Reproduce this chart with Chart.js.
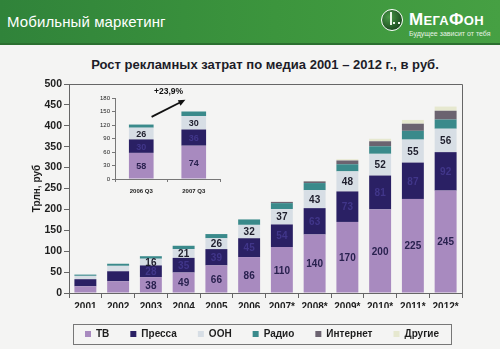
<!DOCTYPE html>
<html><head><meta charset="utf-8">
<script src="https://cdn.jsdelivr.net/npm/chart.js@4/dist/chart.umd.min.js"></script>
<style>
html,body{margin:0;padding:0;width:500px;height:349px;overflow:hidden;background:#f4f4f3;font-family:"Liberation Sans",Arial,sans-serif;}
#header{position:absolute;left:0;top:0;width:500px;height:43px;background:linear-gradient(to right,#30833a,#3c953d 55%,#46a043);border-bottom:2px solid #2b6f30;}
#htext{position:absolute;left:7px;top:13px;color:#fff;font-size:15px;letter-spacing:0.1px;}
#logoC{position:absolute;left:381px;top:9px;width:20px;height:20px;border-radius:50%;border:1.5px solid #fff;background:radial-gradient(circle at 35% 35%,#4a9a48,#1e4f22 70%);}
#logoI{position:absolute;left:390px;top:12px;width:2px;height:13px;background:#e8f3e6;}
#logoD{position:absolute;left:393px;top:22px;width:7px;height:2px;border-top:2px dotted #e8f3e6;}
#logoT{position:absolute;left:409px;top:10px;color:#fff;font-weight:bold;font-size:17px;letter-spacing:0.3px;}
#logoT span{font-size:13px;}
#logoS{position:absolute;left:409px;top:30px;color:#e6f2e4;font-size:7px;}
#title{position:absolute;left:15px;top:57px;width:500px;text-align:center;font-size:13px;font-weight:bold;color:#1c1c28;}
canvas{position:absolute;}
</style></head><body>
<div id="header"><div id="htext">Мобильный маркетинг</div>
<div id="logoC"></div><div id="logoI"></div><div id="logoD"></div>
<div id="logoT">М<span>ЕГА</span>Ф<span>ОН</span></div>
<div id="logoS">Будущее зависит от тебя</div></div>
<div id="title">Рост рекламных затрат по медиа 2001 – 2012 г., в руб.</div>
<canvas id="main" width="500" height="349" style="left:0;top:0"></canvas>
<canvas id="inset" width="150" height="120" style="left:80px;top:85px"></canvas>
<script>
// ---- data ----
const years = ['2001','2002','2003','2004','2005','2006','2007*','2008*','2009*','2010*','2011*','2012*'];
const tv       = [16, 28, 38, 49, 66, 86, 110, 140, 170, 200, 225, 245];
const press    = [17, 24, 28, 35, 39, 45, 54, 63, 73, 81, 87, 92];
const ooh      = [8, 13, 16, 21, 26, 32, 37, 43, 48, 52, 55, 56];
const radio    = [3, 5, 6, 8, 10, 13, 14, 17, 17, 18, 21, 22];
const internet = [0, 0, 0, 0, 0, 0, 3, 4, 9, 12, 17, 21];
const other    = [0, 0, 0, 0, 0, 0, 0, 1, 3, 6, 9, 10];
const seriesNames = ['ТВ','Пресса','ООН','Радио','Интернет','Другие'];
const yTicksMain = [0,50,100,150,200,250,300,350,400,450,500];

const quarters = ['2006 Q3','2007 Q3'];
const qTv = [58, 74];
const qPress = [30, 36];
const qOoh = [26, 30];
const qRadio = [7, 10];
const growthLabel = '+23,9%';

const colors = ['#a88abf','#2a2064','#d7dee5','#3a8a8b','#6b6370','#e6e8cf'];
const FONT = '"Liberation Sans", Arial, sans-serif';

const valueLabels = {
  id:'valueLabels',
  afterDatasetsDraw(chart, args, opts){
    const ctx = chart.ctx;
    chart.data.datasets.forEach((ds, di) => {
      if (!ds.labelColor) return;
      const meta = chart.getDatasetMeta(di);
      meta.data.forEach((el, i) => {
        if (i < (ds.labelFrom || 0)) return;
        const p = el.getProps(['x','y','base'], true);
        ctx.save();
        ctx.font = opts.font;
        ctx.fillStyle = ds.labelColor;
        ctx.textAlign = 'center';
        ctx.textBaseline = 'middle';
        ctx.fillText(String(ds.data[i]), p.x, (p.y + p.base) / 2 + 1);
        ctx.restore();
      });
    });
  }
};

const frame = {
  id:'frame',
  afterDraw(chart){
    const a = chart.chartArea, ctx = chart.ctx;
    ctx.save(); ctx.strokeStyle = '#666'; ctx.lineWidth = 1;
    ctx.beginPath();
    ctx.moveTo(a.left, a.top + 0.5); ctx.lineTo(a.right + 0.5, a.top + 0.5); ctx.lineTo(a.right + 0.5, a.bottom);
    ctx.stroke(); ctx.restore();
  }
};

const legendPlace = {
  id:'legendPlace',
  afterLayout(chart){
    const lg = chart.legend;
    if (lg) { const w = lg.right - lg.left; lg.left = 64; lg.right = 64 + w; }
  },
  afterDraw(chart){
    const lg = chart.legend;
    if (!lg || !lg.legendHitBoxes.length) return;
    const hb = lg.legendHitBoxes, f = hb[0], l = hb[hb.length - 1];
    const ctx = chart.ctx;
    ctx.save(); ctx.strokeStyle = '#777'; ctx.lineWidth = 1;
    const x0 = Math.round(f.left - 12) + 0.5, x1 = Math.round(l.left + l.width + 12) + 0.5;
    const y0 = Math.round(f.top - 5) + 0.5, y1 = Math.round(f.top + f.height + 5) + 0.5;
    ctx.strokeRect(x0, y0, x1 - x0, y1 - y0);
    ctx.restore();
  }
};

const mainSeries = [tv, press, ooh, radio, internet, other];
const labelColors = ['#29214f', '#41368a', '#1e1e2c', null, null, null];

new Chart(document.getElementById('main'), {
  type:'bar',
  data:{
    labels: years,
    datasets: mainSeries.map((d, i) => ({
      label: seriesNames[i], data: d, backgroundColor: colors[i], borderWidth: 0,
      barPercentage: 0.67, categoryPercentage: 1, labelColor: labelColors[i], labelFrom: 2
    }))
  },
  options:{
    responsive:false, animation:false, devicePixelRatio:1,
    layout:{padding:{top:84, right:38, left:0, bottom:0}},
    scales:{
      x:{stacked:true,
        grid:{display:true, drawOnChartArea:false, drawTicks:true, tickLength:5, color:'#666', offset:true},
        border:{display:true, color:'#666'},
        ticks:{color:'#1e1e1e', font:{family:FONT, size:10, weight:'bold'}, padding:3, maxRotation:0, autoSkip:false},
        afterFit(s){ s.height = 15; }
      },
      y:{stacked:true, min:0, max:500,
        afterBuildTicks(s){ s.ticks = yTicksMain.map(v => ({value:v})); },
        grid:{display:true, drawOnChartArea:false, drawTicks:true, tickLength:5, color:'#666'},
        border:{display:true, color:'#666'},
        ticks:{color:'#1e1e1e', font:{family:FONT, size:10.5, weight:'bold'}, padding:2},
        title:{display:true, text:'Трлн, руб', color:'#1e1e1e', font:{family:FONT, size:10, weight:'bold'}, padding:{top:31, bottom:0}},
        afterFit(s){ s.width = 69; }
      }
    },
    plugins:{
      legend:{display:true, position:'bottom', align:'start',
        labels:{boxWidth:6, boxHeight:6, padding:21, color:'#1e1e1e', font:{family:FONT, size:10, weight:'bold'}}},
      tooltip:{enabled:false},
      valueLabels:{font:'bold 10px ' + FONT}
    }
  },
  plugins:[valueLabels, frame, legendPlace]
});

const arrowPlugin = {
  id:'arrowPlugin',
  afterDraw(chart){
    const ys = chart.scales.y, bars = chart.getDatasetMeta(0).data, ctx = chart.ctx;
    const x1 = bars[0].x + bars[0].width / 2 - 2, y1 = ys.getPixelForValue(138);
    const x2 = bars[1].x - bars[1].width / 2 + 4, y2 = ys.getPixelForValue(176);
    ctx.save();
    ctx.strokeStyle = '#111'; ctx.fillStyle = '#111'; ctx.lineWidth = 1.8;
    const ang = Math.atan2(y2 - y1, x2 - x1);
    ctx.beginPath(); ctx.moveTo(x1, y1); ctx.lineTo(x2 - 5 * Math.cos(ang), y2 - 5 * Math.sin(ang)); ctx.stroke();
    ctx.beginPath();
    ctx.moveTo(x2, y2);
    ctx.lineTo(x2 - 7 * Math.cos(ang) + 3 * Math.sin(ang), y2 - 7 * Math.sin(ang) - 3 * Math.cos(ang));
    ctx.lineTo(x2 - 7 * Math.cos(ang) - 3 * Math.sin(ang), y2 - 7 * Math.sin(ang) + 3 * Math.cos(ang));
    ctx.closePath(); ctx.fill();
    ctx.font = 'bold 8.5px ' + FONT; ctx.textAlign = 'center'; ctx.textBaseline = 'middle';
    ctx.fillText(growthLabel, (x1 + x2) / 2, ys.getPixelForValue(193));
    ctx.restore();
  }
};

const qSeries = [qTv, qPress, qOoh, qRadio];
new Chart(document.getElementById('inset'), {
  type:'bar',
  data:{
    labels: quarters,
    datasets: qSeries.map((d, i) => ({
      label: seriesNames[i], data: d, backgroundColor: colors[i], borderWidth: 0,
      barPercentage: 0.47, categoryPercentage: 1, labelColor: labelColors[i], labelFrom: 0
    }))
  },
  options:{
    responsive:false, animation:false, devicePixelRatio:1,
    layout:{padding:{top:13, right:10, left:0, bottom:0}},
    scales:{
      x:{stacked:true,
        grid:{display:true, drawOnChartArea:false, drawTicks:true, tickLength:3, color:'#777', offset:true},
        border:{display:true, color:'#777'},
        ticks:{color:'#222', font:{family:FONT, size:6, weight:'bold'}, padding:6, maxRotation:0},
        afterFit(s){ s.height = 26; }
      },
      y:{stacked:true, min:0, max:180,
        ticks:{stepSize:30, color:'#222', font:{family:FONT, size:6}, padding:2},
        grid:{display:true, drawOnChartArea:false, drawTicks:true, tickLength:3, color:'#777'},
        border:{display:true, color:'#777'},
        afterFit(s){ s.width = 35; }
      }
    },
    plugins:{legend:{display:false}, tooltip:{enabled:false}, valueLabels:{font:'bold 9px ' + FONT}}
  },
  plugins:[valueLabels, arrowPlugin]
});
</script>
</body></html>
